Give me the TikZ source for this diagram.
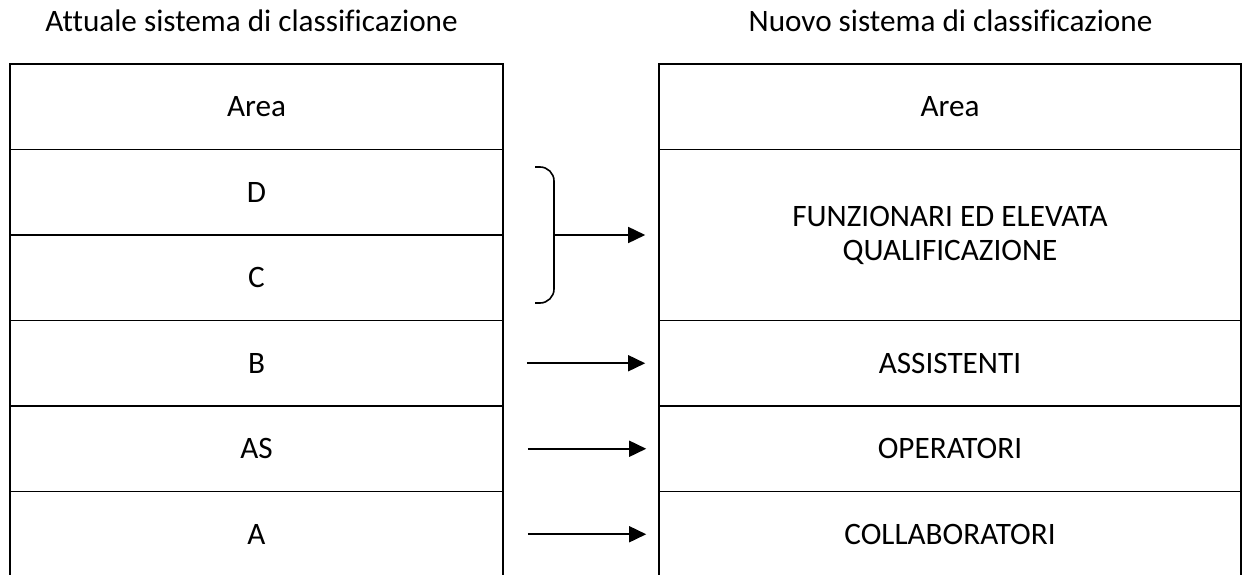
\documentclass[tikz,border=0pt]{standalone}
\usepackage{fontspec}
\setmainfont{Carlito}[Ligatures=NoCommon]
\usetikzlibrary{arrows.meta}
\usetikzlibrary{graphs}

\tikzset{
  cell/.style={draw, line width=1.6pt, minimum height=85.5pt, inner sep=0pt, align=center},
  lcell/.style={cell, minimum width=493pt},
  rcell/.style={cell, minimum width=582pt},
  title/.style={anchor=base, inner sep=0pt}
}

\begin{document}
\begin{tikzpicture}[x=1pt, y=-1pt, font=\fontsize{31.2}{34}\selectfont,
  >={Triangle[length=17pt, width=16pt]}, line width=1.6pt]
\useasboundingbox (0,0) rectangle (1242,575);
\node (tl) [title] at (251.5,31.7) {Attuale sistema di classificazione};
\node (tr) [title] at (950.5,31.7) {Nuovo sistema di classificazione};
\node (la) [lcell] at (256.5,106.75) {Area};
\node (ld) [lcell] at (256.5,192.25) {D};
\node (lc) [lcell] at (256.5,277.75) {C};
\node (lb) [lcell] at (256.5,363.25) {B};
\node (las) [lcell] at (256.5,448.75) {AS};
\node (lx) [lcell] at (256.5,534.25) {A};
\node (ra) [rcell] at (950,106.75) {Area};
\node (rf) [rcell, minimum height=171pt] at (950,235) {FUNZIONARI ED ELEVATA\\QUALIFICAZIONE};
\node (rb) [rcell] at (950,363.25) {ASSISTENTI};
\node (ras) [rcell] at (950,448.75) {OPERATORI};
\node (rx) [rcell] at (950,534.25) {COLLABORATORI};
\draw [rounded corners=14pt] (535,167) -- (554,167) -- (554,303) -- (535,303);
\coordinate (brk) at (554,235);
\graph [edges={line width=1.6pt}] { (brk) ->[shorten >=13pt] (rf);
  (lb) ->[shorten <=23pt, shorten >=13pt] (rb);
  (las) ->[shorten <=24pt, shorten >=12pt] (ras);
  (lx) ->[shorten <=24pt, shorten >=12pt] (rx) };
\end{tikzpicture}
\end{document}
